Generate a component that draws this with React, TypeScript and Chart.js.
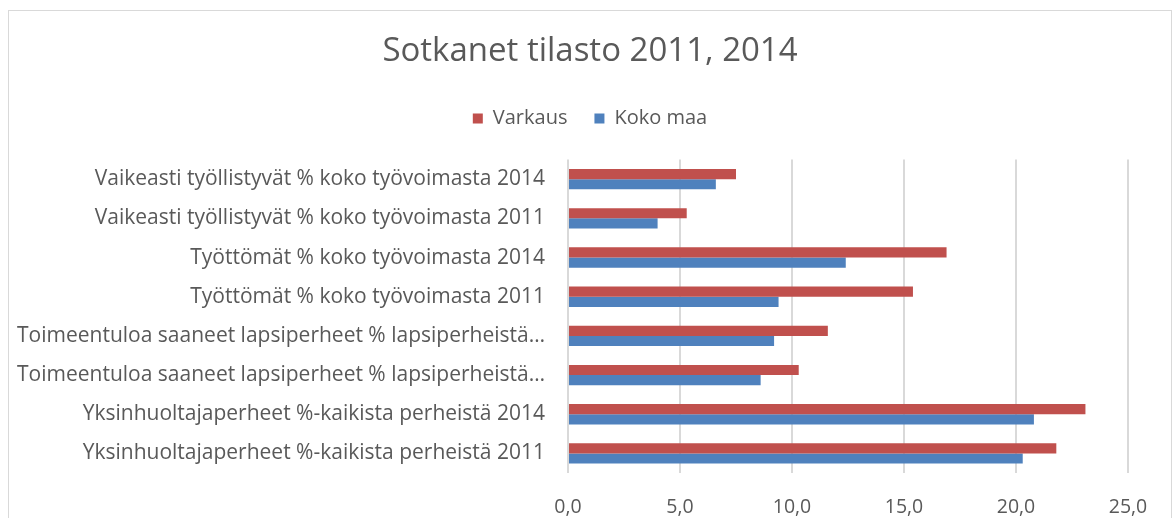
import React, { useEffect, useRef } from "react";
import { Chart, registerables } from "chart.js";

Chart.register(...registerables);

const categories = [
  "Vaikeasti työllistyvät % koko työvoimasta 2014",
  "Vaikeasti työllistyvät % koko työvoimasta 2011",
  "Työttömät % koko työvoimasta 2014",
  "Työttömät % koko työvoimasta 2011",
  "Toimeentuloa saaneet lapsiperheet % lapsiperheistä…",
  "Toimeentuloa saaneet lapsiperheet % lapsiperheistä…",
  "Yksinhuoltajaperheet %-kaikista perheistä 2014",
  "Yksinhuoltajaperheet %-kaikista perheistä 2011",
];

const varkaus = [7.5, 5.3, 16.9, 15.4, 11.6, 10.3, 23.1, 21.8];
const kokoMaa = [6.6, 4.0, 12.4, 9.4, 9.2, 8.6, 20.8, 20.3];

const xTicks = [0, 5, 10, 15, 20, 25];

const FONT = "'Open Sans', sans-serif";
const TEXT = "#595959";

const legendMargin = {
  id: "legendMargin",
  beforeInit(chart: any) {
    const legend = chart.legend;
    if (!legend) return;
    const orig = legend.fit;
    legend.fit = function () {
      orig.bind(legend)();
      this.height += 21;
    };
  },
};

export default function App() {
  const ref = useRef<HTMLCanvasElement | null>(null);

  useEffect(() => {
    if (!ref.current) return;
    const chart = new Chart(ref.current, {
      type: "bar",
      data: {
        labels: categories,
        datasets: [
          {
            label: "Varkaus",
            data: varkaus,
            backgroundColor: "#C0504D",
            categoryPercentage: 0.52,
            barPercentage: 1.0,
          },
          {
            label: "Koko maa",
            data: kokoMaa,
            backgroundColor: "#4F81BD",
            categoryPercentage: 0.52,
            barPercentage: 1.0,
          },
        ],
      },
      plugins: [legendMargin],
      options: {
        indexAxis: "y",
        animation: false,
        responsive: true,
        maintainAspectRatio: false,
        layout: { padding: 0 },
        plugins: {
          title: {
            display: true,
            text: "Sotkanet tilasto 2011, 2014",
            color: TEXT,
            font: { family: FONT, size: 33, weight: "normal" },
            padding: { top: 21, bottom: 10 },
          },
          legend: {
            display: true,
            position: "top",
            labels: {
              color: TEXT,
              font: { family: FONT, size: 20 },
              boxWidth: 10,
              boxHeight: 10,
              padding: 27,
            },
          },
          tooltip: { enabled: false },
        },
        scales: {
          x: {
            min: 0,
            max: 25,
            afterBuildTicks: (axis: any) => {
              axis.ticks = xTicks.map((v) => ({ value: v }));
            },
            afterFit: (axis: any) => {
              axis.height = 45;
            },
            grid: {
              color: "#D9D9D9",
              lineWidth: 2,
              drawTicks: false,
            },
            border: { display: false },
            ticks: {
              color: TEXT,
              font: { family: FONT, size: 19.5 },
              padding: 23,
              callback: (v: any) => Number(v).toFixed(1).replace(".", ","),
            },
          },
          y: {
            grid: { display: false, drawTicks: false },
            border: { display: false },
            afterFit: (axis: any) => {
              axis.width = 559;
            },
            ticks: {
              color: TEXT,
              font: { family: FONT, size: 21 },
              padding: 23,
              autoSkip: false,
            },
          },
          yRight: {
            type: "category",
            position: "right",
            grid: { display: false, drawTicks: false },
            border: { display: false },
            ticks: { display: false },
            afterFit: (axis: any) => {
              axis.width = 43;
            },
          },
        },
      },
    });
    return () => chart.destroy();
  }, []);

  return (
    <div
      style={{
        position: "fixed",
        left: 8,
        top: 10,
        width: 1164,
        height: 508,
        borderTop: "1px solid #D9D9D9",
        borderLeft: "1px solid #D9D9D9",
        borderRight: "1px solid #D9D9D9",
        boxSizing: "border-box",
        background: "#fff",
      }}
    >
      <div style={{ position: "relative", width: 1162, height: 507 }}>
        <canvas ref={ref} />
      </div>
    </div>
  );
}
